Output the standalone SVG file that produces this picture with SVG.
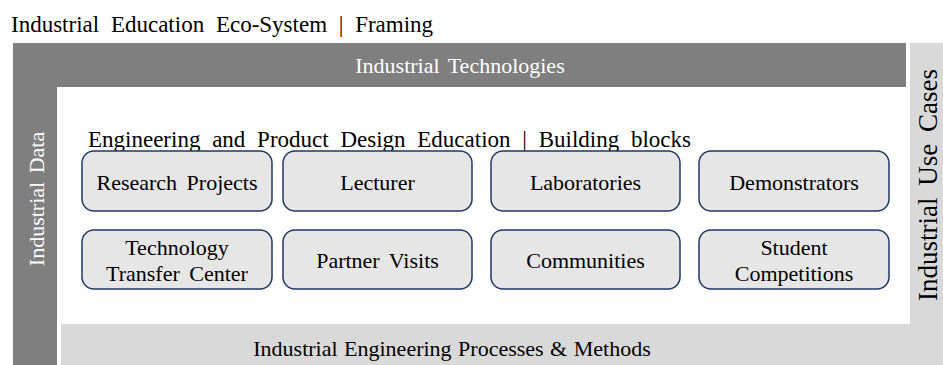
<svg xmlns="http://www.w3.org/2000/svg" width="943" height="365" viewBox="0 0 943 365">
  <style>
    text { font-family: "Liberation Serif", "Times New Roman", serif; }
    .title { font-size: 23px; fill: #000; word-spacing: 6px; }
    .dark { fill: #7f7f7f; }
    .light { fill: #d9d9d9; }
    .onDark { font-size: 22px; fill: #ffffff; word-spacing: 3px; }
    .onLight { font-size: 22px; fill: #000; word-spacing: 1px; }
    .block rect { fill: #e7e6e6; stroke: #203864; stroke-width: 1.5; }
    .block text { font-size: 22px; fill: #000; text-anchor: middle; word-spacing: 4px; }
  </style>

  <rect width="943" height="365" fill="#ffffff"/>

  <!-- heading -->
  <text class="title" x="11" y="32">Industrial Education Eco-System | Framing</text>

  <!-- frame bars -->
  <g id="bar-technologies">
    <rect class="dark" x="13" y="43" width="893" height="44"/>
    <text class="onDark" x="460" y="73" text-anchor="middle">Industrial Technologies</text>
  </g>
  <g id="bar-data">
    <rect class="dark" x="13" y="43" width="44" height="322"/>
    <text class="onDark" transform="translate(44,199) rotate(-90)" text-anchor="middle">Industrial Data</text>
  </g>
  <g id="bar-use-cases">
    <rect class="light" x="910" y="43" width="33" height="322"/>
    <text class="onLight" style="font-size:27px;word-spacing:5px" transform="translate(937,185) rotate(-90)" text-anchor="middle">Industrial Use Cases</text>
  </g>
  <g id="bar-processes">
    <rect class="light" x="61" y="324" width="882" height="41"/>
    <text class="onLight" x="452" y="356" text-anchor="middle">Industrial Engineering Processes &amp; Methods</text>
  </g>

  <!-- inner heading -->
  <text class="title" x="88" y="147">Engineering and Product Design Education | Building blocks</text>

  <!-- building blocks -->
  <g id="research-projects" class="block">
    <rect x="82" y="151" width="190" height="60" rx="12"/>
    <text x="177" y="190">Research Projects</text>
  </g>
  <g id="lecturer" class="block">
    <rect x="283" y="151" width="189" height="60" rx="12"/>
    <text x="377.5" y="190">Lecturer</text>
  </g>
  <g id="laboratories" class="block">
    <rect x="491" y="151" width="189" height="60" rx="12"/>
    <text x="585.5" y="190">Laboratories</text>
  </g>
  <g id="demonstrators" class="block">
    <rect x="699" y="151" width="190" height="60" rx="12"/>
    <text x="794" y="190">Demonstrators</text>
  </g>
  <g id="technology-transfer-center" class="block">
    <rect x="82" y="230" width="190" height="59" rx="12"/>
    <text x="177" y="255">Technology</text>
    <text x="177" y="281">Transfer Center</text>
  </g>
  <g id="partner-visits" class="block">
    <rect x="283" y="230" width="189" height="59" rx="12"/>
    <text x="377.5" y="268">Partner Visits</text>
  </g>
  <g id="communities" class="block">
    <rect x="491" y="230" width="189" height="59" rx="12"/>
    <text x="585.5" y="268">Communities</text>
  </g>
  <g id="student-competitions" class="block">
    <rect x="699" y="230" width="190" height="59" rx="12"/>
    <text x="794" y="255">Student</text>
    <text x="794" y="281">Competitions</text>
  </g>

  <!-- no connectors in this diagram -->
  <g id="connectors"/>
</svg>
